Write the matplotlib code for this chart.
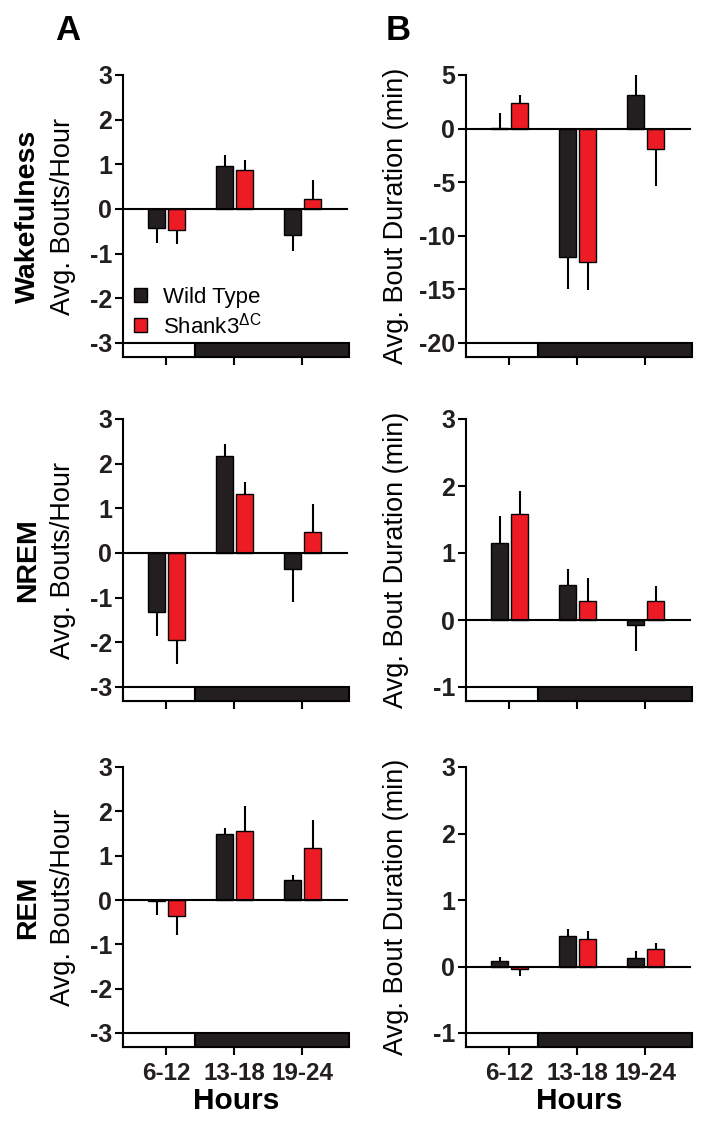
import matplotlib
matplotlib.use("Agg")
import matplotlib.pyplot as plt
from matplotlib.patches import Rectangle, Patch
import numpy as np

plt.rcParams['font.family'] = ['Liberation Sans', 'DejaVu Sans']
plt.rcParams['mathtext.fontset'] = 'custom'
plt.rcParams['mathtext.rm'] = 'Liberation Sans'
plt.rcParams['mathtext.it'] = 'Liberation Sans:italic'
plt.rcParams['mathtext.bf'] = 'Liberation Sans:bold'

hours = ["6-12", "13-18", "19-24"]
states = ["Wakefulness", "NREM", "REM"]
groups = ["Wild Type", r"Shank3$^{\Delta\mathrm{C}}$"]

# bouts per hour (column A)
wake_bouts_wt = [-0.43, 0.97, -0.58]
wake_bouts_wt_sem = [0.32, 0.25, 0.36]
wake_bouts_sh = [-0.48, 0.88, 0.22]
wake_bouts_sh_sem = [0.31, 0.22, 0.43]
nrem_bouts_wt = [-1.33, 2.17, -0.36]
nrem_bouts_wt_sem = [0.53, 0.27, 0.74]
nrem_bouts_sh = [-1.95, 1.31, 0.47]
nrem_bouts_sh_sem = [0.53, 0.29, 0.63]
rem_bouts_wt = [-0.02, 1.48, 0.46]
rem_bouts_wt_sem = [0.32, 0.15, 0.10]
rem_bouts_sh = [-0.37, 1.56, 1.17]
rem_bouts_sh_sem = [0.43, 0.57, 0.64]

# bout duration, min (column B)
wake_dur_wt = [0.1, -11.95, 3.17]
wake_dur_wt_sem = [1.35, 3.05, 1.83]
wake_dur_sh = [2.35, -12.4, -1.9]
wake_dur_sh_sem = [0.75, 2.65, 3.5]
nrem_dur_wt = [1.15, 0.52, -0.07]
nrem_dur_wt_sem = [0.40, 0.24, 0.40]
nrem_dur_sh = [1.58, 0.29, 0.29]
nrem_dur_sh_sem = [0.34, 0.33, 0.22]
rem_dur_wt = [0.09, 0.46, 0.13]
rem_dur_wt_sem = [0.06, 0.10, 0.10]
rem_dur_sh = [-0.035, 0.42, 0.26]
rem_dur_sh_sem = [0.105, 0.12, 0.10]

panels = [
    [(wake_bouts_wt, wake_bouts_wt_sem, wake_bouts_sh, wake_bouts_sh_sem, -3, 3, 1),
     (wake_dur_wt, wake_dur_wt_sem, wake_dur_sh, wake_dur_sh_sem, -20, 5, 5)],
    [(nrem_bouts_wt, nrem_bouts_wt_sem, nrem_bouts_sh, nrem_bouts_sh_sem, -3, 3, 1),
     (nrem_dur_wt, nrem_dur_wt_sem, nrem_dur_sh, nrem_dur_sh_sem, -1, 3, 1)],
    [(rem_bouts_wt, rem_bouts_wt_sem, rem_bouts_sh, rem_bouts_sh_sem, -3, 3, 1),
     (rem_dur_wt, rem_dur_wt_sem, rem_dur_sh, rem_dur_sh_sem, -1, 3, 1)],
]

black = '#231f20'
red = '#ed1c24'
W, H = 716, 1130

fig = plt.figure(figsize=(W / 100, H / 100), dpi=100)

col_left = [123, 466]
ax_w = 226
row_top = [75, 419, 767]
row_bot = [357, 701, 1047]

x = np.arange(3)
bw = 0.25
xlo, xhi = -0.63, 2.69
day_end = 0.43

for r in range(3):
    for c in range(2):
        wt, wt_e, sh, sh_e, ymin, ymax, step = panels[r][c]
        l = col_left[c] / W
        b = 1 - row_bot[r] / H
        h = (row_bot[r] - row_top[r]) / H
        ax = fig.add_axes([l, b, ax_w / W, h])
        band = 14 / (row_bot[r] - row_top[r] - 14) * (ymax - ymin)
        ylo = ymin - band

        for vals, errs, off, col in [(wt, wt_e, -0.135, black), (sh, sh_e, 0.16, red)]:
            vals = np.array(vals)
            errs = np.array(errs)
            ax.bar(x + off, vals, bw, color=col, edgecolor='black', linewidth=1.0, zorder=3)
            lower = np.where(vals < 0, errs, 0)
            upper = np.where(vals >= 0, errs, 0)
            ax.errorbar(x + off, vals, yerr=[lower, upper], fmt='none',
                        ecolor='black', elinewidth=1.5, capsize=0, zorder=2)

        ax.axhline(0, xmin=0, xmax=0.99, color='black', lw=1.5, zorder=4)
        ax.add_patch(Rectangle((xlo, ylo), day_end - xlo, band, facecolor='white',
                               edgecolor='black', lw=1.5, zorder=5, clip_on=False))
        ax.add_patch(Rectangle((day_end, ylo), xhi - day_end, band, facecolor=black,
                               edgecolor='black', lw=1.5, zorder=5, clip_on=False))

        ax.set_xlim(xlo, xhi)
        ax.set_ylim(ylo, ymax)
        yt = np.arange(ymin, ymax + step / 2, step)
        ax.set_yticks(yt)
        ax.set_yticklabels([str(int(v)) for v in yt],
                           fontsize=18, fontweight='bold', color='#231f20')
        ax.set_xticks(x)
        if r == 2:
            ax.set_xticklabels(hours, fontsize=17.5, fontweight='bold', color='#231f20')
            ax.set_xlabel("Hours", fontsize=21.5, fontweight='bold', labelpad=1)
        else:
            ax.set_xticklabels([])
        ax.tick_params(axis='both', direction='out', length=6, width=1.5, pad=2)
        ax.tick_params(axis='x', pad=5)
        for s in ['top', 'right']:
            ax.spines[s].set_visible(False)
        ax.spines['left'].set_linewidth(1.5)
        ax.spines['bottom'].set_linewidth(1.5)

        yc = 1 - (row_top[r] + row_bot[r]) / 2 / H
        if c == 0:
            fig.text(28 / W, yc, states[r], rotation=90, ha='center', va='center',
                     fontsize=20.5, fontweight='bold')
            fig.text(63 / W, yc, "Avg. Bouts/Hour", rotation=90, ha='center',
                     va='center', fontsize=19.5)
        else:
            fig.text(396 / W, yc, "Avg. Bout Duration (min)", rotation=90,
                     ha='center', va='center', fontsize=19.5)

        if r == 0 and c == 0:
            handles = [Patch(facecolor=black, edgecolor='black'),
                       Patch(facecolor=red, edgecolor='black')]
            ax.legend(handles, groups, loc='lower left', bbox_to_anchor=(-0.01, 0.02),
                      frameon=False, fontsize=16, handlelength=0.6, handleheight=0.6,
                      handletextpad=0.7, labelspacing=0.2, borderaxespad=0.2)

fig.text(68 / W, 1 - 30 / H, "A", ha='center', va='center', fontsize=25, fontweight='bold')
fig.text(398 / W, 1 - 30 / H, "B", ha='center', va='center', fontsize=25, fontweight='bold')

fig.savefig("out.png", dpi=100)
